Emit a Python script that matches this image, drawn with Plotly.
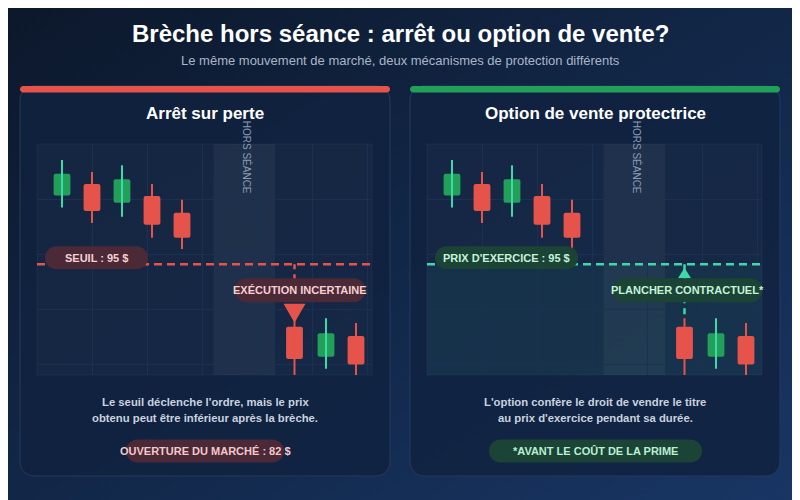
import base64
import plotly.graph_objects as go

# candles: time slot, open, close, high, low (same market move in both panels)
slots = [1, 2, 3, 4, 5, 8.75, 9.8, 10.8]
opens = [109.3, 111.7, 107.8, 109.2, 105.7, 82.0, 75.8, 80.1]
closes = [113.8, 106.1, 112.7, 103.2, 100.5, 75.3, 80.7, 74.2]
highs = [116.7, 114.2, 115.6, 111.7, 108.4, 83.8, 83.8, 82.8]
lows = [106.8, 103.6, 104.9, 100.5, 98.2, 72.0, 73.3, 71.4]

closed_session = [6.05, 8.1]   # "hors séance" window
stop_level = 95
strike = 95
gap_open = 82
gap_slot = slots[5]

stop_notes = ["Le seuil déclenche l'ordre, mais le prix", "obtenu peut être inférieur après la brèche."]
put_notes = ["L'option confère le droit de vendre le titre", "au prix d'exercice pendant sa durée."]

W, H = 800, 500
OFF = 8  # page margin of the browser
BG_A, BG_B = '#0c182b', '#183665'
CARD = 'rgba(16,34,63,0.85)'
CARD_LINE = '#253b5c'
RED = '#e5534b'
GREEN = '#22a05a'
TEAL = '#3dd9a8'
GRID = '#1b3151'
FONT = 'Liberation Sans, Arial, sans-serif'


def px(x):
    return (x - OFF) / W


def py(y):
    return 1 - (y - OFF) / H


def rounded_rect_paper(x0, y0, x1, y1, r):
    # screen pixels -> paper path
    k = 0.5523 * r
    pts = [
        ('M', [(x0 + r, y0)]), ('L', [(x1 - r, y0)]),
        ('C', [(x1 - r + k, y0), (x1, y0 + r - k), (x1, y0 + r)]), ('L', [(x1, y1 - r)]),
        ('C', [(x1, y1 - r + k), (x1 - r + k, y1), (x1 - r, y1)]), ('L', [(x0 + r, y1)]),
        ('C', [(x0 + r - k, y1), (x0, y1 - r + k), (x0, y1 - r)]), ('L', [(x0, y0 + r)]),
        ('C', [(x0, y0 + r - k), (x0 + r - k, y0), (x0 + r, y0)]),
    ]
    s = ''
    for cmd, ps in pts:
        s += cmd + ' '.join(f'{px(a):.5f},{py(b):.5f}' for a, b in ps) + ' '
    return s + 'Z'


def pill(xref, yref, xa, ya, w, h, color, dx=0, dy=0):
    r = h / 2
    k = 0.5523 * r
    x0, x1 = dx - w / 2, dx + w / 2
    y0, y1 = dy - r, dy + r
    path = (f'M{x0 + r},{y0} L{x1 - r},{y0} C{x1 - r + k},{y0} {x1},{dy - k} {x1},{dy} '
            f'C{x1},{dy + k} {x1 - r + k},{y1} {x1 - r},{y1} L{x0 + r},{y1} '
            f'C{x0 + r - k},{y1} {x0},{dy + k} {x0},{dy} C{x0},{dy - k} {x0 + r - k},{y0} {x0 + r},{y0} Z')
    return dict(type='path', path=path, xref=xref, yref=yref, xsizemode='pixel', ysizemode='pixel',
                xanchor=xa, yanchor=ya, fillcolor=color, line=dict(width=0), layer='above')


def label(xref, yref, x, y, text, color, size=11, dx=0, dy=0, bold=True):
    return dict(xref=xref, yref=yref, x=x, y=y, xshift=dx, yshift=dy, showarrow=False,
                text=f'<b>{text}</b>' if bold else text,
                font=dict(family=FONT, size=size, color=color), xanchor='center', yanchor='middle')


fig = go.Figure()

for xa, ya in [('x', 'y'), ('x2', 'y2')]:
    up_x, up_y, dn_x, dn_y = [], [], [], []
    for s, o, c, hi, lo in zip(slots, opens, closes, highs, lows):
        if c >= o:
            up_x += [s, s, None]
            up_y += [lo, hi, None]
        else:
            dn_x += [s, s, None]
            dn_y += [lo, hi, None]
    for wx, wy, col in [(up_x, up_y, TEAL), (dn_x, dn_y, RED)]:
        fig.add_trace(go.Scatter(x=wx, y=wy, mode='lines', line=dict(color=col, width=2),
                                 hoverinfo='skip', cliponaxis=False, xaxis=xa, yaxis=ya))
    fig.add_trace(go.Bar(
        x=slots, y=[abs(c - o) for o, c in zip(opens, closes)],
        base=[min(o, c) for o, c in zip(opens, closes)], width=0.56,
        marker=dict(color=[GREEN if c >= o else RED for o, c in zip(opens, closes)],
                    line=dict(width=0), cornerradius=2),
        cliponaxis=False, hoverinfo='skip', xaxis=xa, yaxis=ya))

svg = (f'<svg xmlns="http://www.w3.org/2000/svg" width="{W}" height="{H}" preserveAspectRatio="none">'
       '<defs><linearGradient id="g" x1="0" y1="0" x2="1" y2="1">'
       f'<stop offset="0" stop-color="{BG_A}"/><stop offset="1" stop-color="{BG_B}"/>'
       f'</linearGradient></defs><rect width="{W}" height="{H}" fill="url(#g)"/></svg>')
bg_src = 'data:image/svg+xml;base64,' + base64.b64encode(svg.encode()).decode()

shapes = []
annotations = []

# cards
for (cx0, cx1), bar in [((20, 390), RED), ((410, 780), GREEN)]:
    shapes.append(dict(type='path', path=rounded_rect_paper(cx0, 86, cx1, 476, 14), xref='paper', yref='paper',
                       fillcolor=CARD, line=dict(color=CARD_LINE, width=1), layer='below'))
    shapes.append(dict(type='path', path=rounded_rect_paper(cx0, 86, cx1, 92.5, 3.2), xref='paper', yref='paper',
                       fillcolor=bar, line=dict(width=0), layer='below'))

for xa, ya in [('x', 'y'), ('x2', 'y2')]:
    shapes.append(dict(type='rect', xref=f'{xa} domain', yref=f'{ya} domain', x0=0, x1=1, y0=0, y1=1,
                       fillcolor='rgba(255,255,255,0.025)', line=dict(color='rgba(255,255,255,0.04)', width=1),
                       layer='below'))
    shapes.append(dict(type='rect', xref=xa, yref=f'{ya} domain', x0=closed_session[0], x1=closed_session[1],
                       y0=0, y1=1, fillcolor='rgba(255,255,255,0.045)', line=dict(width=0), layer='below'))
    annotations.append(dict(xref=xa, yref='paper', x=sum(closed_session) / 2, y=py(157), xshift=3,
                            xanchor='center', yanchor='middle',
                            text='HORS SÉANCE', textangle=90, showarrow=False,
                            font=dict(family=FONT, size=10, color='#8d9bb3')))

# right panel: zone protected by the floor
shapes.append(dict(type='rect', xref='x2 domain', yref='y2', x0=0, x1=1, y0=72, y1=strike,
                   fillcolor='rgba(61,217,168,0.055)', line=dict(width=0), layer='below'))

# level lines
shapes.append(dict(type='line', xref='x domain', yref='y', x0=0, x1=1, y0=stop_level, y1=stop_level,
                   line=dict(color=RED, width=2.5, dash='8px,5px'), layer='above'))
shapes.append(dict(type='line', xref='x2 domain', yref='y2', x0=0, x1=1, y0=strike, y1=strike,
                   line=dict(color=TEAL, width=2.5, dash='8px,5px'), layer='above'))

# connectors
shapes.append(dict(type='line', xref='x', yref='y', x0=gap_slot, x1=gap_slot, y0=stop_level, y1=85,
                   line=dict(color=RED, width=2.5, dash='5px,5px'), layer='above'))
shapes.append(dict(type='line', xref='x2', yref='y2', x0=gap_slot, x1=gap_slot, y0=strike, y1=highs[5],
                   line=dict(color=TEAL, width=2.5, dash='6px,5px'), layer='above'))

# markers
shapes.append(dict(type='path', xref='x', yref='y', xsizemode='pixel', ysizemode='pixel',
                   xanchor=gap_slot, yanchor=gap_open, path='M-11,23 L11,23 L0,4 Z',
                   fillcolor=RED, line=dict(width=0), layer='above'))
shapes.append(dict(type='path', xref='x2', yref='y2', xsizemode='pixel', ysizemode='pixel',
                   xanchor=gap_slot, yanchor=strike, path='M-6.5,-14 L6.5,-14 L0,-3.5 Z',
                   fillcolor=TEAL, line=dict(width=0), layer='above'))

RED_PILL, RED_TXT = '#4b2937', '#f6d0d2'
GRN_PILL, GRN_TXT = '#1b4436', '#c6f2da'

shapes.append(pill('x', 'y', 2.15, stop_level, 103, 23, RED_PILL, dy=6.5))
annotations.append(label('x', 'y', 2.15, stop_level, 'SEUIL : 95 $', RED_TXT, dy=6.5))
shapes.append(pill('x', 'y', gap_slot, stop_level, 131, 24, RED_PILL, dx=5.5, dy=-26))
annotations.append(label('x', 'y', gap_slot, stop_level, 'EXÉCUTION INCERTAINE', RED_TXT, dx=5.5, dy=-26))

shapes.append(pill('x2', 'y2', 2.82, strike, 143, 23, GRN_PILL, dy=6.5))
annotations.append(label('x2', 'y2', 2.82, strike, "PRIX D'EXERCICE : 95 $", GRN_TXT, dy=6.5))
shapes.append(pill('x2', 'y2', gap_slot, strike, 150, 24, GRN_PILL, dx=3, dy=-26))
annotations.append(label('x2', 'y2', gap_slot, strike, 'PLANCHER CONTRACTUEL*', GRN_TXT, dx=3, dy=-26))

# bottom pills
shapes.append(pill('paper', 'paper', px(205), py(451), 158, 23, RED_PILL))
annotations.append(label('paper', 'paper', px(205), py(451), 'OUVERTURE DU MARCHÉ : 82 $', '#f4c8cb'))
shapes.append(pill('paper', 'paper', px(595.5), py(451), 213, 23, GRN_PILL))
annotations.append(label('paper', 'paper', px(595.5), py(451), '*AVANT LE COÛT DE LA PRIME', '#b9efd2'))

# texts
annotations.append(label('paper', 'paper', px(400), py(33), 'Brèche hors séance : arrêt ou option de vente?',
                         '#ffffff', size=24))
annotations.append(label('paper', 'paper', px(400), py(61),
                         'Le même mouvement de marché, deux mécanismes de protection différents',
                         '#aab6c8', size=13, bold=False))
annotations.append(label('paper', 'paper', px(205), py(114), 'Arrêt sur perte', '#ffffff', size=17))
annotations.append(label('paper', 'paper', px(595), py(114), 'Option de vente protectrice', '#ffffff', size=17))
for cx, notes in [(205, stop_notes), (595, put_notes)]:
    for line_y, line in zip([401.7, 418.3], notes):
        annotations.append(label('paper', 'paper', px(cx), py(line_y), line, '#c9d2df', size=11.3))

x_axis = dict(range=[0.1667, 11.3333], tick0=0.1667, dtick=55 / 30, showticklabels=False, showgrid=True,
              gridcolor=GRID, gridwidth=1, zeroline=False, showline=False, fixedrange=True)
y_axis = dict(range=[72, 120], tick0=120, dtick=55 / 4.8125, showticklabels=False, showgrid=True,
              gridcolor=GRID, gridwidth=1, zeroline=False, showline=False, fixedrange=True)

fig.update_layout(
    width=W, height=H, autosize=False,
    margin=dict(l=0, r=0, t=0, b=0),
    paper_bgcolor=BG_A, plot_bgcolor='rgba(0,0,0,0)',
    showlegend=False, barmode='overlay',
    xaxis=dict(x_axis, domain=[px(37), px(372)], anchor='y'),
    yaxis=dict(y_axis, domain=[py(375), py(144)], anchor='x'),
    xaxis2=dict(x_axis, domain=[px(427), px(762)], anchor='y2'),
    yaxis2=dict(y_axis, domain=[py(375), py(144)], anchor='x2'),
    shapes=shapes,
    annotations=annotations,
    images=[dict(source=bg_src, xref='paper', yref='paper', x=0, y=1, sizex=1, sizey=1,
                 sizing='stretch', xanchor='left', yanchor='top', layer='below')],
    font=dict(family=FONT),
)

fig.write_html('out.html')
